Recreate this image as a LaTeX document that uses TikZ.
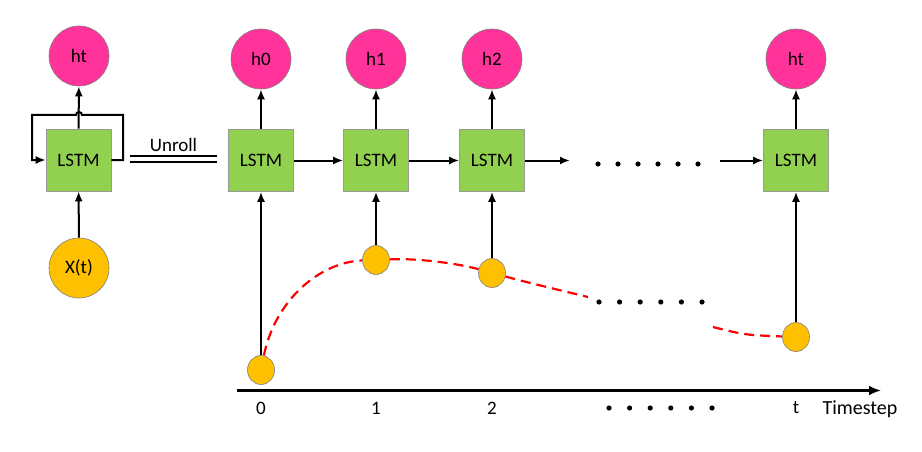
\documentclass[tikz,border=0pt]{standalone}
\usepackage{fontspec}
\setmainfont{Carlito}
\usetikzlibrary{arrows.meta}
\usetikzlibrary{shapes.geometric}
\usetikzlibrary{backgrounds}
\definecolor{rosa}{RGB}{255,51,153}
\definecolor{verde}{RGB}{146,208,80}
\definecolor{oro}{RGB}{255,192,0}

\begin{document}
\begin{tikzpicture}[x=1pt,y=-1pt,
	line width=2pt,
  >={Latex[length=10pt,width=8pt]},
  hnode/.style={circle,draw=gray,line width=0.6pt,fill=rosa,minimum size=60pt,inner sep=0pt},
  cell/.style={draw=gray!80,line width=0.6pt,fill=verde,minimum width=65pt,minimum height=62pt,inner sep=0pt},
  xin/.style={circle,draw=gray,line width=0.6pt,fill=oro,minimum size=60pt,inner sep=0pt},
  xpt/.style={ellipse,draw=gray,line width=0.6pt,fill=oro,minimum width=27pt,minimum height=29pt,inner sep=0pt},
	font=\fontsize{19}{21}\selectfont]
  \useasboundingbox (0,0) rectangle (922,452);

  % folded cell
  \node[hnode] (hl) at (79,56) {ht};
  \node[cell] (cl) at (78.5,160) {LSTM};
  \node[xin] (xl) at (79,268) {X(t)};
  \draw[->] (xl) -- (cl);
  \draw[->] (cl) -- (hl);
  \draw[->] (cl.east) -| (123,115) -- (82,115) arc[start angle=0,end angle=-180,radius=3]
    -- (32,115) |- (cl.west);

  % unroll sign
  \coordinate (ua) at (130,159);
  \coordinate (ub) at (217,159);
  \draw[double,double distance=4pt,line width=1.6pt] (ua) -- node[above=3pt] {Unroll} (ub);

  % unrolled cells
  \foreach \n/\x/\lab/\py in {0/261/h0/370, 1/376/h1/260, 2/492/h2/273, t/796/ht/337} {
    \node[hnode] (h\n) at (\x,59) {\lab};
    \node[cell] (c\n) at (\x,160.5) {LSTM};
    \node[xpt] (p\n) at (\x,\py) {};
    \node (s\n) at (\x,408) {\n};
    \draw[->] (p\n) -- (c\n);
    \draw[->] (c\n) -- (h\n);
  }
  \coordinate (d1) at (570,160.5);
  \coordinate (d2) at (720,160.5);
  \draw[->] (c0) -- (c1);
  \draw[->] (c1) -- (c2);
  \draw[->] (c2) -- (d1);
  \draw[->] (d2) -- (ct);
  \foreach \k in {0,...,5} {
    \fill (598+20*\k,164) circle (2.6);
    \fill (599+20.6*\k,302) circle (2.6);
    \fill (609+20.6*\k,408) circle (2.6);
  }

  % input curve
  \coordinate (r1) at (588,297);
  \coordinate (r2) at (713,327);
  \begin{pgfonlayer}{background}
    \draw[red,line width=2.2pt,dash pattern=on 10pt off 6pt]
      (p0) .. controls (275,300) and (320,262) .. (p1)
      .. controls (420,258) and (460,264) .. (p2)
      .. controls (530,283) .. (r1);
    \draw[red,line width=2.2pt,dash pattern=on 10pt off 6pt]
      (r2) .. controls (745,335) .. (pt);
  \end{pgfonlayer}

  % time axis
  \coordinate (a0) at (237,390.5);
  \coordinate (a1) at (881,390.5);
  \draw[-{Latex[length=12pt,width=10pt]},line width=3pt] (a0) -- (a1);
  \node[font=\fontsize{20}{22}\selectfont] (ts) at (860,409) {Timestep};
\end{tikzpicture}
\end{document}
